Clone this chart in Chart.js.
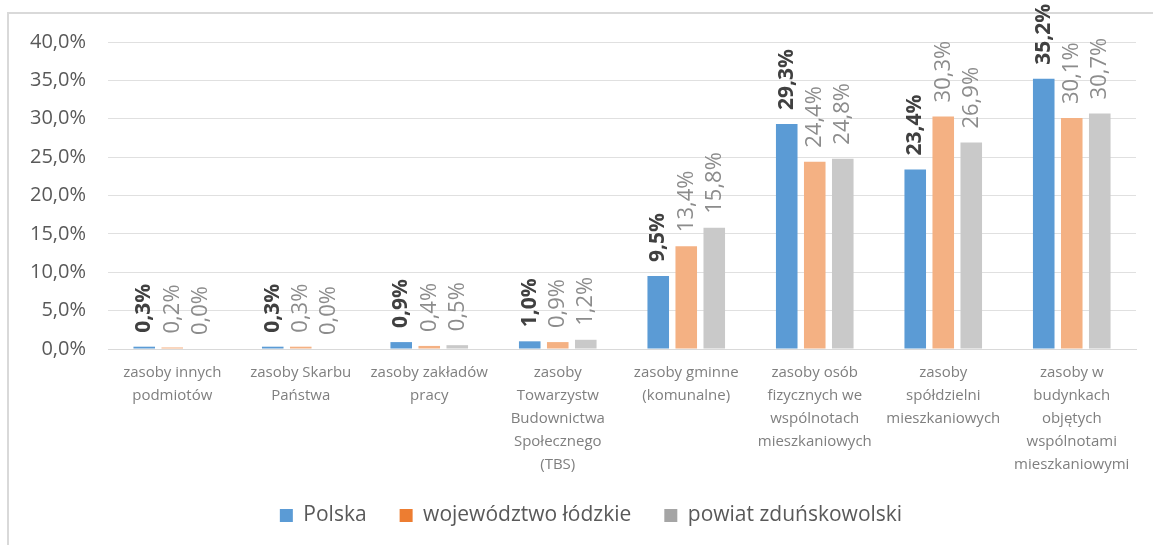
<!DOCTYPE html>
<html>
<head>
<meta charset="utf-8">
<script src="https://cdn.jsdelivr.net/npm/chart.js@4/dist/chart.umd.min.js"></script>
<style>
  html, body { margin: 0; padding: 0; background: #fff; }
  #wrap { position: absolute; left: 0; top: 0; width: 1153px; height: 545px; }
</style>
</head>
<body>
<div id="wrap"><canvas id="chart"></canvas></div>
<script>
const categories = [
  ["zasoby innych", "podmiotów"],
  ["zasoby Skarbu", "Państwa"],
  ["zasoby zakładów", "pracy"],
  ["zasoby", "Towarzystw", "Budownictwa", "Społecznego", "(TBS)"],
  ["zasoby gminne", "(komunalne)"],
  ["zasoby osób", "fizycznych we", "wspólnotach", "mieszkaniowych"],
  ["zasoby", "spółdzielni", "mieszkaniowych"],
  ["zasoby w", "budynkach", "objętych", "wspólnotami", "mieszkaniowymi"]
];
const seriesNames = ["Polska", "województwo łódzkie", "powiat zduńskowolski"];
const polska = [0.3, 0.3, 0.9, 1.0, 9.5, 29.3, 23.4, 35.2];
const lodzkie = [0.2, 0.3, 0.4, 0.9, 13.4, 24.4, 30.3, 30.1];
const zdunskowolski = [0.0, 0.0, 0.5, 1.2, 15.8, 24.8, 26.9, 30.7];
const yTicks = [0, 5, 10, 15, 20, 25, 30, 35, 40];

const barColors = ['#5B9BD5', '#F4B183', '#C9C9C9'];
const legendColors = ['#5B9BD5', '#ED7D31', '#A5A5A5'];
const fontFamily = '"Open Sans", Lato, sans-serif';

const fmt = (v) => v.toFixed(1).replace('.', ',') + '%';

// frame lines (top and left edge only, like the cropped original)
const framePlugin = {
  id: 'frame',
  beforeDraw: (chart) => {
    const ctx = chart.ctx;
    ctx.save();
    ctx.strokeStyle = '#d9d9d9';
    ctx.lineWidth = 2;
    ctx.beginPath();
    ctx.moveTo(8, 545);
    ctx.lineTo(8, 13);
    ctx.lineTo(1153, 13);
    ctx.stroke();
    ctx.restore();
  }
};

// nudge the legend: a bit up, and centred on the whole frame
const legendShift = {
  id: 'legendShift',
  afterLayout: (chart) => {
    const lg = chart.legend;
    lg.top -= 9;
    lg.bottom -= 9;
    lg.left += 46;
  }
};

// rotated value labels above bars
const valueLabels = {
  id: 'valueLabels',
  afterDatasetsDraw: (chart) => {
    const ctx = chart.ctx;
    chart.data.datasets.forEach((ds, di) => {
      const meta = chart.getDatasetMeta(di);
      meta.data.forEach((bar, i) => {
        ctx.save();
        ctx.translate(bar.x, bar.y - 14);
        ctx.rotate(-Math.PI / 2);
        ctx.font = di === 0 ? 'bold 21px ' + fontFamily : '22px ' + fontFamily;
        ctx.fillStyle = di === 0 ? '#404040' : '#8c8c8c';
        ctx.textAlign = 'left';
        ctx.textBaseline = 'middle';
        ctx.fillText(fmt(ds.data[i]), 0, 0);
        ctx.restore();
      });
    });
  }
};

const data = {
  labels: categories,
  datasets: [
    { label: seriesNames[0], data: polska, backgroundColor: barColors[0] },
    { label: seriesNames[1], data: lodzkie, backgroundColor: barColors[1] },
    { label: seriesNames[2], data: zdunskowolski, backgroundColor: barColors[2] }
  ]
};

const config = {
  type: 'bar',
  data: data,
  options: {
    responsive: true,
    maintainAspectRatio: false,
    animation: false,
    datasets: {
      bar: { categoryPercentage: 0.654, barPercentage: 0.77 }
    },
    layout: { padding: { left: 0, right: 17, top: 42, bottom: 0 } },
    plugins: {
      tooltip: { enabled: false },
      legend: {
        position: 'bottom',
        labels: {
          font: { family: fontFamily, size: 21 },
          color: '#595959',
          boxWidth: 13,
          boxHeight: 13,
          padding: 33,
          generateLabels: (chart) => chart.data.datasets.map((ds, i) => ({
            text: ds.label,
            fillStyle: legendColors[i],
            strokeStyle: legendColors[i],
            lineWidth: 0,
            fontColor: '#595959',
            datasetIndex: i
          }))
        }
      }
    },
    scales: {
      x: {
        grid: { display: false, drawTicks: false },
        border: { display: true, color: '#d9d9d9', width: 1 },
        ticks: {
          autoSkip: false,
          maxRotation: 0,
          padding: 12,
          color: '#7f7f7f',
          font: { family: fontFamily, size: 15, lineHeight: 1.53 }
        },
        afterFit: (scale) => { scale.height = 132; }
      },
      y: {
        min: 0,
        max: 40,
        afterBuildTicks: (scale) => { scale.ticks = yTicks.map(v => ({ value: v })); },
        grid: { color: '#e0e0e0', drawTicks: false },
        border: { display: false },
        ticks: {
          padding: 22,
          color: '#595959',
          font: { family: fontFamily, size: 20 },
          callback: (value) => fmt(value)
        },
        afterFit: (scale) => { scale.width = 108; }
      }
    }
  },
  plugins: [framePlugin, legendShift, valueLabels]
};

const myChart = new Chart(document.getElementById('chart'), config);
</script>
</body>
</html>
